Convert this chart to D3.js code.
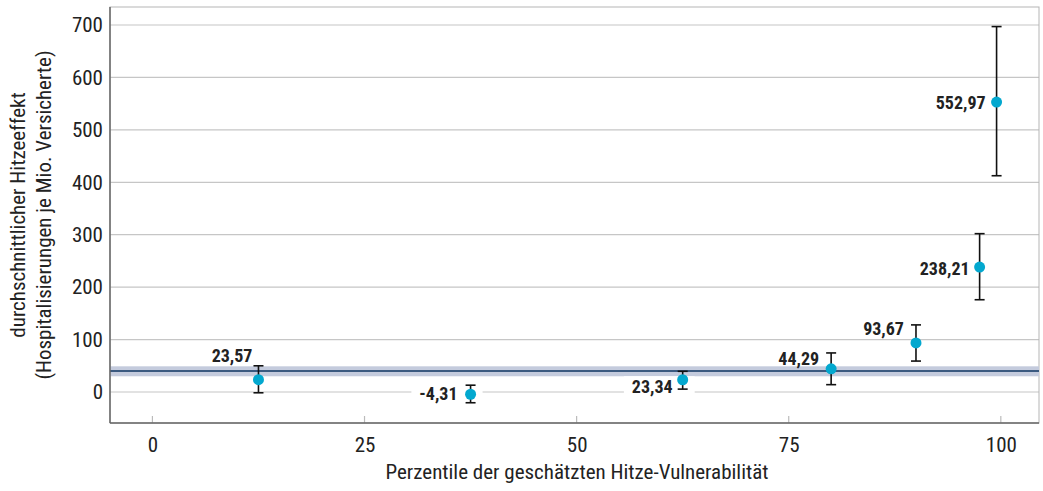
<!DOCTYPE html>
<html><head><meta charset="utf-8">
<script src="https://cdn.jsdelivr.net/npm/d3@7"></script>
<style>body{margin:0;background:#fff}</style>
</head><body>
<svg id="c" width="1043" height="491"></svg>
<script>
const percentiles = [12.5, 37.5, 62.5, 80, 90, 97.5, 99.5];
const effects = [23.57, -4.31, 23.34, 44.29, 93.67, 238.21, 552.97];
const ciLow = [-1.5, -20.5, 5.5, 14, 59, 176, 412.5];
const ciHigh = [50, 13, 39.5, 74.5, 128, 302, 697];
const labels = ["23,57", "-4,31", "23,34", "44,29", "93,67", "238,21", "552,97"];
const refValue = 40;
const refBand = [30, 49];
const xTicks = [0, 25, 50, 75, 100];
const yTicks = [0, 100, 200, 300, 400, 500, 600, 700];
// label placement (px offsets relative to point: dx to right edge, dy to middle)
const labelDx = [-6, -13, -10, -12, -12, -10, -11];
const labelDy = [-24, -1, 7, -10, -14, 1, 0];
const labelBg = [false, true, true, false, false, false, false];

const svg = d3.select("#c");
const L = 110, R = 1039, T = 7, B = 423;
const x = d3.scaleLinear().domain([-5, 104.5]).range([L, R]);
const y = d3.scaleLinear().domain([0, 700]).range([392, 25]);
const font = "'Roboto Condensed','DejaVu Sans Condensed',sans-serif";

// grid
svg.append("g").selectAll("line").data(yTicks).join("line")
  .attr("x1", L).attr("x2", R).attr("y1", d => y(d)).attr("y2", d => y(d))
  .attr("stroke", "#c6c6c6").attr("stroke-width", 1.2);

// frame
svg.append("rect").attr("x", L).attr("y", T).attr("width", R - L).attr("height", B - T)
  .attr("fill", "none").attr("stroke", "#b5b5b5").attr("stroke-width", 1);

// reference band + line
svg.append("rect").attr("x", L).attr("width", R - L)
  .attr("y", y(refBand[1])).attr("height", y(refBand[0]) - y(refBand[1]))
  .attr("fill", "#c4cbdd");
svg.append("line").attr("x1", L).attr("x2", R).attr("y1", y(refValue)).attr("y2", y(refValue))
  .attr("stroke", "#3b5a80").attr("stroke-width", 2);

// axes
const yAxis = d3.axisLeft(y).tickValues(yTicks).tickSize(0).tickPadding(7).tickFormat(d3.format("d"));
const gy = svg.append("g").attr("transform", `translate(${L},0)`).call(yAxis);
gy.select(".domain").remove();
gy.selectAll("text").attr("font-family", font).attr("font-size", 21).attr("fill", "#222");
svg.append("line").attr("x1", L).attr("x2", L).attr("y1", T).attr("y2", B).attr("stroke", "#666").attr("stroke-width", 1.5);

const xAxis = d3.axisBottom(x).tickValues(xTicks).tickSize(0).tickPadding(14).tickFormat(d3.format("d"));
const gx = svg.append("g").attr("transform", `translate(0,${B})`).call(xAxis);
gx.select(".domain").remove();
gx.selectAll("text").attr("font-family", font).attr("font-size", 21).attr("fill", "#222");
svg.append("g").selectAll("line").data(xTicks).join("line")
  .attr("x1", d => x(d)).attr("x2", d => x(d)).attr("y1", B - 7).attr("y2", B)
  .attr("stroke", "#bbb").attr("stroke-width", 1.2);
svg.append("line").attr("x1", L).attr("x2", R).attr("y1", B).attr("y2", B).attr("stroke", "#666").attr("stroke-width", 1.5);

// axis titles
svg.append("text").attr("x", 577).attr("y", 479).attr("text-anchor", "middle")
  .attr("font-family", font).attr("font-size", 21).attr("fill", "#222")
  .text("Perzentile der geschätzten Hitze-Vulnerabilität");
const yt = svg.append("text").attr("transform", "translate(0,215) rotate(-90)")
  .attr("text-anchor", "middle").attr("font-family", font).attr("font-size", 21).attr("fill", "#222");
yt.append("tspan").attr("x", 0).attr("y", 25).text("durchschnittlicher Hitzeeffekt");
yt.append("tspan").attr("x", 0).attr("y", 51).text("(Hospitalisierungen je Mio. Versicherte)");

const data = percentiles.map((p, i) => ({p, v: effects[i], lo: ciLow[i], hi: ciHigh[i], lab: labels[i], i}));

// label backgrounds & labels
const lg = svg.append("g");
data.forEach(d => {
  const t = lg.append("text")
    .attr("x", x(d.p) + labelDx[d.i]).attr("y", y(d.v) + labelDy[d.i])
    .attr("text-anchor", "end").attr("dominant-baseline", "central")
    .attr("font-family", font).attr("font-size", 18).attr("font-weight", "bold").attr("fill", "#222")
    .text(d.lab);
  if (labelBg[d.i]) {
    const bb = t.node().getBBox();
    lg.insert("rect", () => t.node())
      .attr("x", bb.x - 8).attr("y", bb.y).attr("width", x(d.p) + 12 - (bb.x - 8)).attr("height", bb.height)
      .attr("fill", "#fff");
  }
});

// error bars
const eg = svg.append("g").attr("stroke", "#111").attr("stroke-width", 1.6);
eg.selectAll(".v").data(data).join("line")
  .attr("x1", d => x(d.p)).attr("x2", d => x(d.p)).attr("y1", d => y(d.lo)).attr("y2", d => y(d.hi));
eg.selectAll(".t").data(data).join("line")
  .attr("x1", d => x(d.p) - 5).attr("x2", d => x(d.p) + 5).attr("y1", d => y(d.hi)).attr("y2", d => y(d.hi));
eg.selectAll(".b").data(data).join("line")
  .attr("x1", d => x(d.p) - 5).attr("x2", d => x(d.p) + 5).attr("y1", d => y(d.lo)).attr("y2", d => y(d.lo));

// points
svg.append("g").selectAll("circle").data(data).join("circle")
  .attr("cx", d => x(d.p)).attr("cy", d => y(d.v)).attr("r", 5.5)
  .attr("fill", "#03a8cf");
</script>
</body></html>
